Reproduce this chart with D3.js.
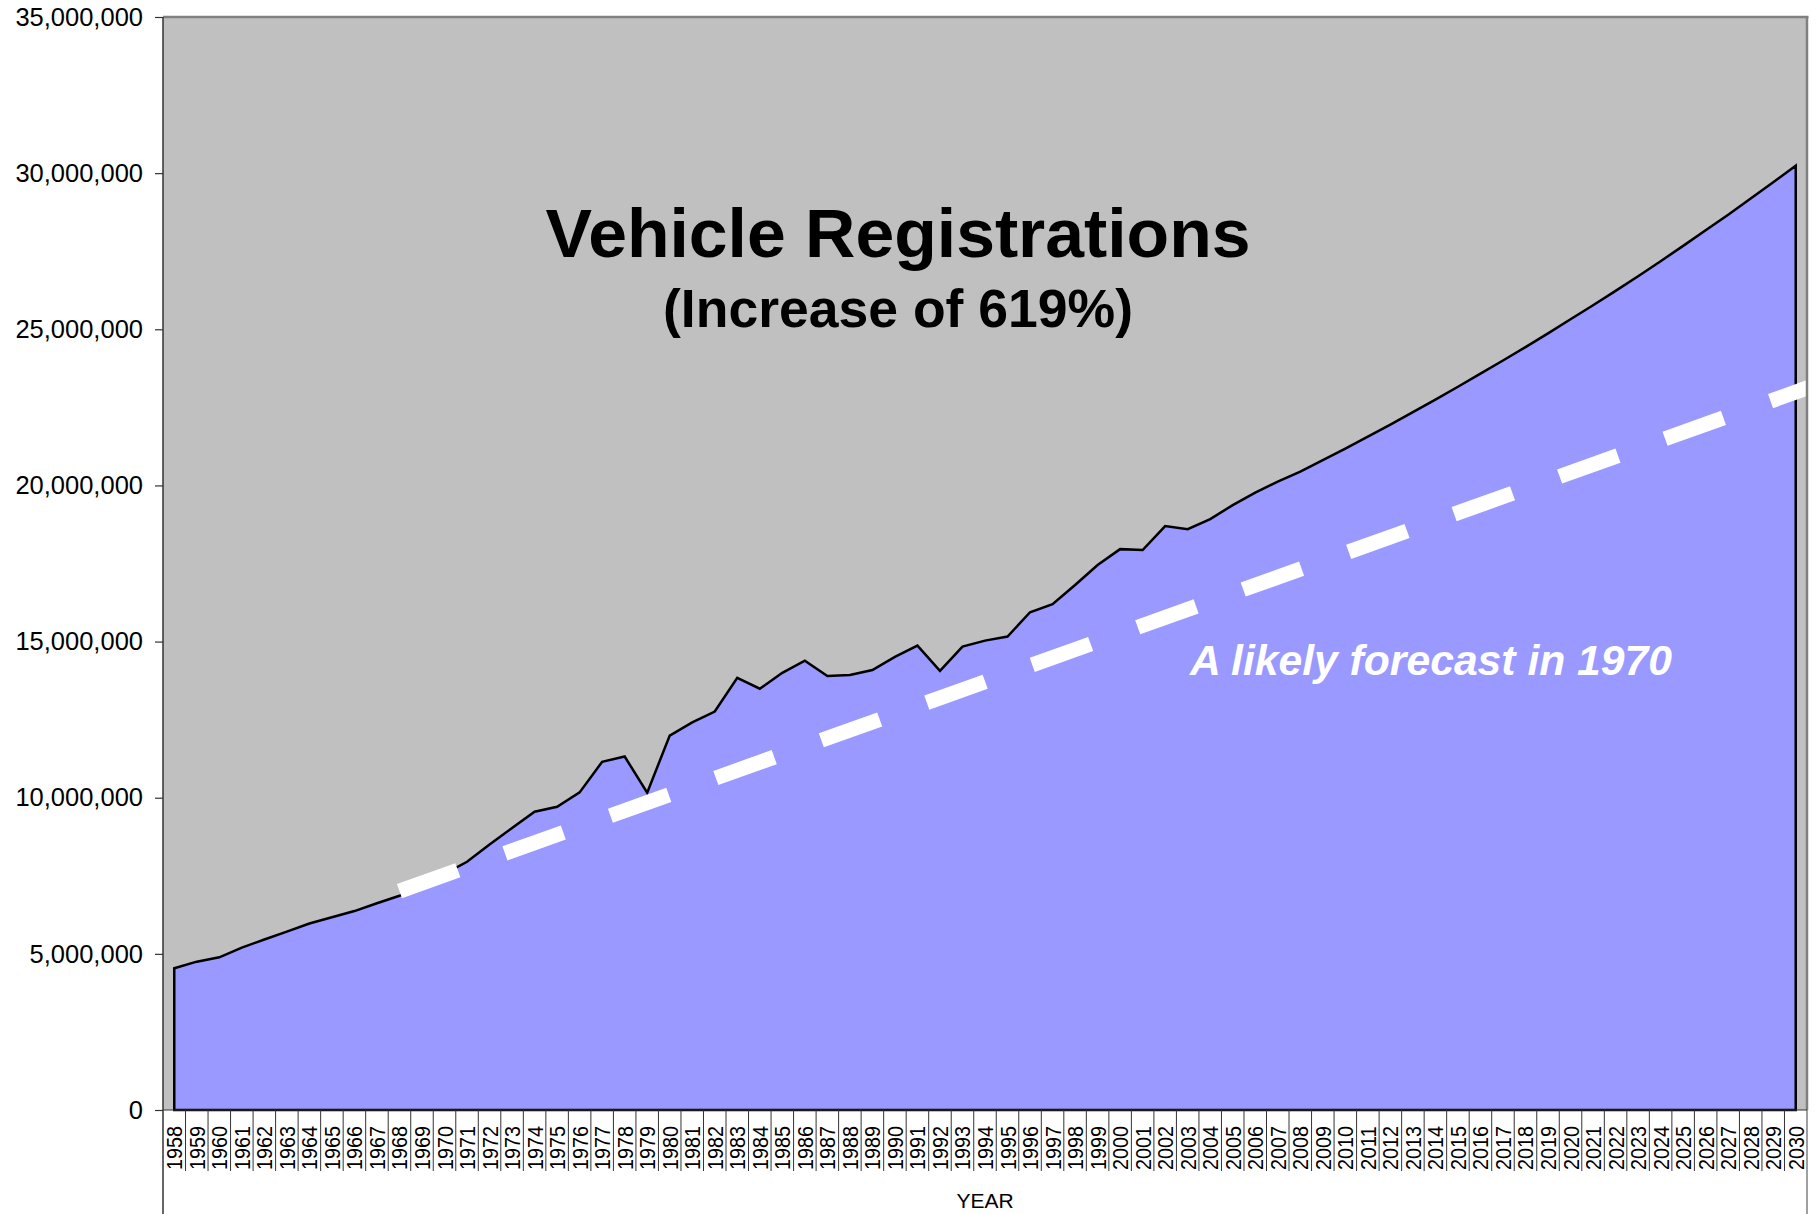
<!DOCTYPE html>
<html>
<head>
<meta charset="utf-8">
<script src="https://cdn.jsdelivr.net/npm/d3@7"></script>
<style>
  html, body { margin: 0; padding: 0; background: #ffffff; }
  svg { display: block; }
</style>
</head>
<body>
<svg id="chart" width="1818" height="1214"></svg>
<script>
// Registration years shown on the category axis
const years = [
  1958, 1959, 1960, 1961, 1962, 1963, 1964, 1965, 1966, 1967,
  1968, 1969, 1970, 1971, 1972, 1973, 1974, 1975, 1976, 1977,
  1978, 1979, 1980, 1981, 1982, 1983, 1984, 1985, 1986, 1987,
  1988, 1989, 1990, 1991, 1992, 1993, 1994, 1995, 1996, 1997,
  1998, 1999, 2000, 2001, 2002, 2003, 2004, 2005, 2006, 2007,
  2008, 2009, 2010, 2011, 2012, 2013, 2014, 2015, 2016, 2017,
  2018, 2019, 2020, 2021, 2022, 2023, 2024, 2025, 2026, 2027,
  2028, 2029, 2030
];

// Registered vehicles per year (actuals, then projection)
const registrations = [
  4540000, 4750000, 4890000, 5200000, 5460000, 5710000, 5970000, 6170000, 6370000, 6620000,
  6860000, 7200000, 7560000, 7950000, 8500000, 9030000, 9550000, 9710000, 10170000, 11150000,
  11320000, 10160000, 11990000, 12410000, 12760000, 13840000, 13490000, 14000000, 14390000, 13900000,
  13930000, 14090000, 14510000, 14870000, 14060000, 14840000, 15030000, 15160000, 15940000, 16200000,
  16810000, 17450000, 17960000, 17930000, 18700000, 18600000, 18920000, 19370000, 19770000, 20120000,
  20440000, 20810000, 21180000, 21560000, 21950000, 22350000, 22750000, 23160000, 23580000, 24000000,
  24430000, 24870000, 25320000, 25770000, 26230000, 26700000, 27180000, 27670000, 28170000, 28670000,
  29190000, 29710000, 30240000
];

// Straight-line forecast as it might have been drawn around 1970
const forecastYears = [1968, 2030];
const forecastValues = [7010000, 22990000];

// Value axis ticks
const yTicks = [0, 5000000, 10000000, 15000000, 20000000, 25000000, 30000000, 35000000];

const titleLines = ["Vehicle Registrations", "(Increase of 619%)"];
const forecastLabel = "A likely forecast in 1970";
const xAxisTitle = "YEAR";

const FONT = "'Liberation Sans', Arial, Helvetica, sans-serif";
const W = 1818, H = 1214;
const plot = { left: 163, right: 1807, top: 17, bottom: 1110 };

const svg = d3.select("#chart");

const x = d3.scaleBand().domain(years).range([plot.left, plot.right]).padding(0);
const cx = yr => x(yr) + x.bandwidth() / 2;
const y = d3.scaleLinear().domain([0, 35000000]).range([plot.bottom, plot.top]);

// Plot background
svg.append("rect")
  .attr("x", plot.left).attr("y", plot.top)
  .attr("width", plot.right - plot.left).attr("height", plot.bottom - plot.top)
  .attr("fill", "#C0C0C0");

svg.append("clipPath").attr("id", "plot-clip")
  .append("rect")
  .attr("x", plot.left).attr("y", plot.top)
  .attr("width", plot.right - plot.left).attr("height", plot.bottom - plot.top);

// Registrations area
const series = years.map((yr, i) => ({ year: yr, value: registrations[i] }));
const area = d3.area()
  .x(d => cx(d.year))
  .y0(y(0))
  .y1(d => y(d.value));

svg.append("path")
  .datum(series)
  .attr("d", area)
  .attr("fill", "#9999FF")
  .attr("stroke", "#000000")
  .attr("stroke-width", 2.5)
  .attr("stroke-linejoin", "miter");

// Forecast trend line, continued to the edge of the plot
const yearToX = d3.scaleLinear().domain([years[0], years[years.length - 1]])
  .range([cx(years[0]), cx(years[years.length - 1])]);
const trend = d3.scaleLinear().domain(forecastYears).range(forecastValues);
const edgeYear = yearToX.invert(plot.right + 10);
const trendPts = [forecastYears[0], edgeYear].map(yr => ({ year: yr, value: trend(yr) }));

svg.append("path")
  .datum(trendPts)
  .attr("clip-path", "url(#plot-clip)")
  .attr("d", d3.line().x(d => yearToX(d.year)).y(d => y(d.value)))
  .attr("fill", "none")
  .attr("stroke", "#FFFFFF")
  .attr("stroke-width", 15)
  .attr("stroke-linecap", "butt")
  .attr("stroke-dasharray", "62,50");

// Plot frame (top and right)
svg.append("line")
  .attr("x1", plot.left).attr("x2", plot.right + 1.5)
  .attr("y1", plot.top).attr("y2", plot.top)
  .attr("stroke", "#808080").attr("stroke-width", 2.5);
svg.append("line")
  .attr("x1", plot.right).attr("x2", plot.right)
  .attr("y1", plot.top).attr("y2", plot.bottom)
  .attr("stroke", "#808080").attr("stroke-width", 2.5);
svg.append("line")
  .attr("x1", plot.right).attr("x2", plot.right)
  .attr("y1", plot.bottom).attr("y2", H)
  .attr("stroke", "#808080").attr("stroke-width", 1.5);

// Value axis
const yAxis = d3.axisLeft(y)
  .tickValues(yTicks)
  .tickSize(8)
  .tickSizeOuter(0)
  .tickPadding(12)
  .tickFormat(d3.format(","));
const gy = svg.append("g")
  .attr("transform", `translate(${plot.left},0)`)
  .call(yAxis);
gy.select(".domain").remove();
gy.selectAll(".tick line").attr("stroke", "#333333").attr("stroke-width", 1.2);
gy.selectAll(".tick text")
  .attr("font-family", FONT)
  .attr("font-size", 25.5)
  .attr("fill", "#000000");

// Left axis line running down through the category label block
svg.append("line")
  .attr("x1", plot.left).attr("x2", plot.left)
  .attr("y1", plot.top).attr("y2", H)
  .attr("stroke", "#333333").attr("stroke-width", 1.5);

// Baseline
svg.append("line")
  .attr("x1", plot.left).attr("x2", plot.right)
  .attr("y1", plot.bottom).attr("y2", plot.bottom)
  .attr("stroke", "#333333").attr("stroke-width", 1.2);

// Category separators and rotated year labels
const gx = svg.append("g");
gx.selectAll("line.sep")
  .data(years.slice(1))
  .join("line")
  .attr("class", "sep")
  .attr("x1", d => x(d)).attr("x2", d => x(d))
  .attr("y1", plot.bottom).attr("y2", plot.bottom + 61)
  .attr("stroke", "#333333").attr("stroke-width", 1);

gx.selectAll("text.year")
  .data(years)
  .join("text")
  .attr("class", "year")
  .attr("transform", d => `translate(${cx(d) + 8},${plot.bottom + 60}) rotate(-90)`)
  .attr("text-anchor", "start")
  .attr("font-family", FONT)
  .attr("font-size", 22)
  .attr("textLength", 44)
  .attr("lengthAdjust", "spacingAndGlyphs")
  .attr("fill", "#000000")
  .text(d => d);

svg.append("text")
  .attr("x", (plot.left + plot.right) / 2)
  .attr("y", 1208)
  .attr("text-anchor", "middle")
  .attr("font-family", FONT)
  .attr("font-size", 21)
  .attr("fill", "#000000")
  .text(xAxisTitle);

// Title block
svg.append("text")
  .attr("x", 898).attr("y", 257)
  .attr("text-anchor", "middle")
  .attr("font-family", FONT)
  .attr("font-weight", "bold")
  .attr("font-size", 68)
  .attr("textLength", 705)
  .attr("lengthAdjust", "spacingAndGlyphs")
  .attr("fill", "#000000")
  .text(titleLines[0]);
svg.append("text")
  .attr("x", 898).attr("y", 327)
  .attr("text-anchor", "middle")
  .attr("font-family", FONT)
  .attr("font-weight", "bold")
  .attr("font-size", 53)
  .attr("textLength", 470)
  .attr("lengthAdjust", "spacingAndGlyphs")
  .attr("fill", "#000000")
  .text(titleLines[1]);

// Forecast annotation
svg.append("text")
  .attr("x", 1190).attr("y", 675)
  .attr("font-family", FONT)
  .attr("font-weight", "bold")
  .attr("font-style", "italic")
  .attr("font-size", 42)
  .attr("textLength", 482)
  .attr("lengthAdjust", "spacingAndGlyphs")
  .attr("fill", "#FFFFFF")
  .text(forecastLabel);
</script>
</body>
</html>
